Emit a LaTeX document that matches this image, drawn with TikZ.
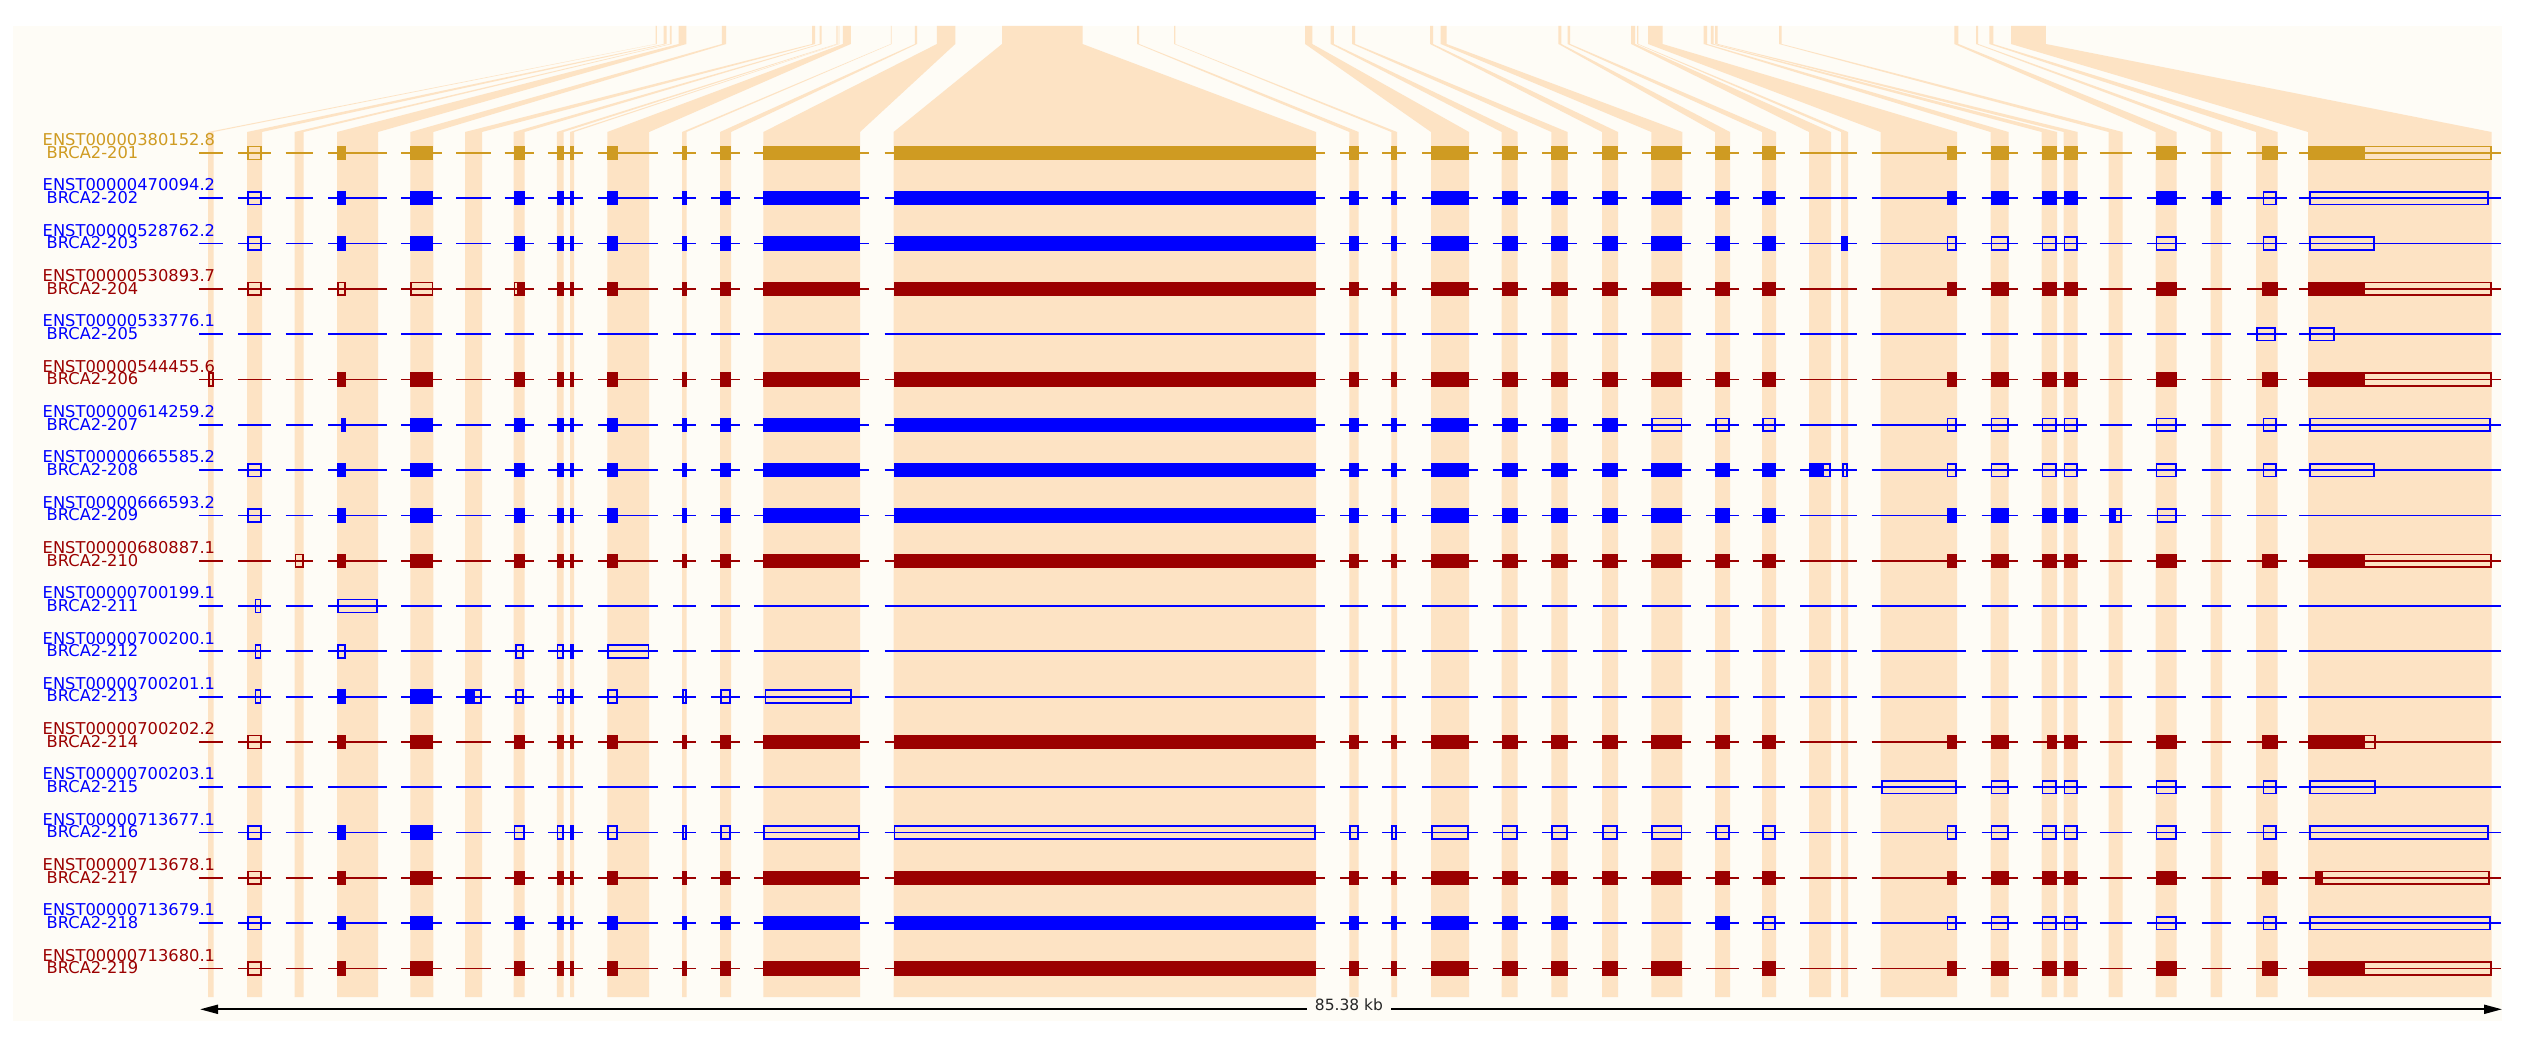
\documentclass[tikz,border=0pt]{standalone}
\usepackage{fontspec}
\setmainfont{DejaVu Sans}
\usetikzlibrary{arrows.meta}

\definecolor{goldtx}{HTML}{CF9B22}
\definecolor{bluetx}{HTML}{0000FF}
\definecolor{redtx}{HTML}{9B0000}
\definecolor{bandcol}{HTML}{FDE3C4}
\definecolor{panelcol}{HTML}{FEFCF6}

% column spans (left/right), one intron segment each
\def\colspans{208/213.5, 247/262, 294.5/303.7, 337/378, 410.4/433.4, 465/482, 513.7/524.6, 556.8/574, 607.3/649.2, 682/686.5, 720/731, 763.4/860, 893.6/1316, 1349.4/1358.6, 1391.3/1397, 1431/1469, 1501.5/1517.6, 1551.4/1567.5, 1602/1618, 1651.3/1682.3, 1715/1730, 1762/1776, 1809/1848, 1880.5/1957, 1990.5/2008.5, 2041.6/2077.7, 2108.5/2122.5, 2155.5/2176.5, 2210.5/2222, 2256/2277.5, 2308/2491.5}
% exons 3-16
\def\exmid{410.4/433.4, 513.7/524.6, 556.8/563.7, 570/574, 607.3/618, 682/686.5, 720/731, 763.4/860, 893.6/1316, 1349.4/1358.6, 1391.3/1397, 1431/1469, 1501.5/1517.6, 1551.4/1567.5}
% exons 21-25
\def\exlate{1946.5/1957, 1990.5/2008.5, 2041.6/2057, 2063.5/2077.7, 2155.5/2176.5}

% #1 row, #2 colour, #3 id, #4 name, #5 coding parts, #6 utr parts
\newcommand{\txrow}[6]{%
  \edef\cdslist{#5}\edef\utrlist{#6}%
  \pgfmathsetmacro{\ry}{153+45.3*#1}
  \node[enst text, text=#2] (enst#1) at (42.5,\ry-7.3) {#3};
  \node[name text, text=#2] (name#1) at (46.5,\ry+5.3) {#4};
  \foreach \xa/\xb in \colspans {\draw[intron line, #2] (\xa-9,\ry) -- (\xb+9,\ry);}
  \foreach \xa/\xb in \cdslist {\fill[#2] (\xa,\ry-7.2) rectangle (\xb,\ry+7.2);}
  \foreach \xa/\xb in \utrlist {\draw[utr box, #2] (\xa+0.8,\ry-6.4) rectangle (\xb-0.8,\ry+6.4);}
}

\begin{document}
\begin{tikzpicture}[x=1pt, y=-1pt,
  enst text/.style={anchor=base west, inner sep=0pt, font=\fontsize{16.3}{16}\selectfont},
  name text/.style={anchor=base west, inner sep=0pt, font=\fontsize{16.3}{16}\selectfont},
  intron line/.style={line width=1.8pt},
  utr box/.style={line width=1.6pt},
  scale text/.style={anchor=base, inner xsep=8pt, inner ysep=0pt, text=black!85, font=\fontsize{15.5}{15}\selectfont},
  scale line/.style={line width=2pt, black, -{Triangle[length=18pt, width=9pt]}}]
\useasboundingbox (0,0) rectangle (2533,1048);
\fill[white] (0,0) rectangle (2533,1048);
\fill[panelcol] (12.6,26) rectangle (2502,1020.7);

% genome to layout bands
\foreach \ta/\tb/\ba/\bb in {655.6/656.8/208/213.5, 663.7/666.6/247/262, 669.8/671.6/294.5/303.7, 678.6/686.4/337/378, 721.8/726.2/410.4/433.4, 812/815.2/465/482, 819.6/821.7/513.7/524.6, 836.3/837.6/556.8/563.7, 838.6/839.4/570/574, 842.8/850.8/607.3/649.2, 890.8/891.7/682/686.5, 914.9/917/720/731, 936.9/955.3/763.4/860, 1002/1082.5/893.6/1316, 1137.2/1139/1349.4/1358.6, 1174.2/1175.3/1391.3/1397, 1305.1/1312.3/1431/1469, 1330.7/1333.8/1501.5/1517.6, 1352.1/1355.2/1551.4/1567.5, 1430/1433/1602/1618, 1440.7/1446.6/1651.3/1682.3, 1558.4/1561.3/1715/1730, 1567.5/1570.2/1762/1776, 1631/1635.2/1809/1831, 1637/1638.3/1841/1848, 1648/1662.6/1880.5/1957, 1703.7/1707.1/1990.5/2008.5, 1710.8/1713.7/2041.6/2057, 1715/1717.7/2063.5/2077.7, 1779/1781.7/2108.5/2122.5, 1954.3/1958.4/2155.5/2176.5, 1976/1978.2/2210.5/2222, 1989.3/1993.3/2256/2277.5, 2011/2045.9/2308/2491.5}
  \fill[bandcol] (\ta,26) -- (\tb,26) -- (\tb,44) -- (\bb,132) -- (\bb,997) -- (\ba,997) -- (\ba,132) -- (\ta,44) -- cycle;

% transcripts
\txrow{0}{goldtx}{ENST00000380152.8}{BRCA2-201}{340.5/346, \exmid, 1602/1618, 1651.3/1682.3, 1715/1730, 1762/1776, \exlate, 2261.5/2277.5, 2308/2363}{247/262, 337/340.5, 2363/2491.5}
\txrow{1}{bluetx}{ENST00000470094.2}{BRCA2-202}{340.5/346, \exmid, 1602/1618, 1651.3/1682.3, 1715/1730, 1762/1776, \exlate, 2210.5/2222}{247/262, 337/340.5, 2262.5/2277, 2309/2489}
\txrow{2}{bluetx}{ENST00000528762.2}{BRCA2-203}{340.5/346, \exmid, 1602/1618, 1651.3/1682.3, 1715/1730, 1762/1776, 1841/1848}{247/262, 337/340.5, \exlate, 2262.5/2277, 2309/2375}
\txrow{3}{redtx}{ENST00000530893.7}{BRCA2-204}{519/524.6, 556.8/563.7, 570/574, 607.3/618, 682/686.5, 720/731, 763.4/860, 893.6/1316, 1349.4/1358.6, 1391.3/1397, 1431/1469, 1501.5/1517.6, 1551.4/1567.5, 1602/1618, 1651.3/1682.3, 1715/1730, 1762/1776, \exlate, 2261.5/2277.5, 2308/2363}{247/262, 337/346, 410.4/433.4, 513.7/519, 2363/2491.5}
\txrow{4}{bluetx}{ENST00000533776.1}{BRCA2-205}{}{2256/2276, 2309/2335}
\txrow{5}{redtx}{ENST00000544455.6}{BRCA2-206}{340.5/346, \exmid, 1602/1618, 1651.3/1682.3, 1715/1730, 1762/1776, \exlate, 2261.5/2277.5, 2308/2363}{208/213.5, 337/340.5, 2363/2491.5}
\txrow{6}{bluetx}{ENST00000614259.2}{BRCA2-207}{340.5/346, \exmid, 1602/1614}{1614/1618, 1651.3/1682.3, 1715/1730, 1762/1776, \exlate, 2262.5/2277, 2309/2491}
\txrow{7}{bluetx}{ENST00000665585.2}{BRCA2-208}{340.5/346, \exmid, 1602/1618, 1651.3/1682.3, 1715/1730, 1762/1776, 1809/1822}{247/262, 337/340.5, 1822/1831, 1842/1847.5, \exlate, 2262.5/2277, 2309/2375}
\txrow{8}{bluetx}{ENST00000666593.2}{BRCA2-209}{340.5/346, \exmid, 1602/1618, 1651.3/1682.3, 1715/1730, 1762/1776, 1946.5/1957, 1990.5/2008.5, 2041.6/2057, 2063.5/2077.7, 2109/2114}{247/262, 337/340.5, 2114/2121.6, 2156.7/2177}
\txrow{9}{redtx}{ENST00000680887.1}{BRCA2-210}{340.5/346, \exmid, 1602/1618, 1651.3/1682.3, 1715/1730, 1762/1776, \exlate, 2261.5/2277.5, 2308/2363}{294.5/303.7, 337/340.5, 2363/2491.5}
\txrow{10}{bluetx}{ENST00000700199.1}{BRCA2-211}{}{254.5/261.3, 337/377.7}
\txrow{11}{bluetx}{ENST00000700200.1}{BRCA2-212}{}{254.5/261.3, 337/346, 515/524, 556.8/563.7, 570/574, 607.3/649.2}
\txrow{12}{bluetx}{ENST00000700201.1}{BRCA2-213}{340.5/346, 410.4/433.4, 465/473.6}{254.5/261.3, 337/340.5, 473.6/482, 515/524, 556.8/563.7, 570/574, 607.3/618, 682/686.5, 720/731, 764.6/852}
\txrow{13}{redtx}{ENST00000700202.2}{BRCA2-214}{340.5/346, \exmid, 1602/1618, 1651.3/1682.3, 1715/1730, 1762/1776, 1946.5/1957, 1990.5/2008.5, 2046.5/2057, 2063.5/2077.7, 2155.5/2176.5, 2261.5/2277.5, 2308/2363.6}{247/262, 337/340.5, 2363.6/2375.5}
\txrow{14}{bluetx}{ENST00000700203.1}{BRCA2-215}{}{1881/1957, 1990.5/2008.5, 2041.6/2057, 2063.5/2077.7, 2155.5/2176.5, 2262.5/2277, 2309/2375.5}
\txrow{15}{bluetx}{ENST00000713677.1}{BRCA2-216}{340.5/346, 410.4/433.4}{247/262, 337/340.5, 513.7/524.6, 556.8/563.7, 570/574, 607.3/618, 682/686.5, 720/731, 763.4/860, 893.6/1316, 1349.4/1358.6, 1391.3/1397, 1431/1469, 1501.5/1517.6, 1551.4/1567.5, 1602/1618, 1651.3/1682.3, 1715/1730, 1762/1776, \exlate, 2262.5/2277, 2309/2489}
\txrow{16}{redtx}{ENST00000713678.1}{BRCA2-217}{340.5/346, \exmid, 1602/1618, 1651.3/1682.3, 1715/1730, 1762/1776, \exlate, 2261.5/2277.5, 2315/2321.6}{247/262, 337/340.5, 2321.6/2489.5}
\txrow{17}{bluetx}{ENST00000713679.1}{BRCA2-218}{340.5/346, \exmid, 1715/1727.6}{247/262, 337/340.5, 1727.6/1730, 1762/1776, \exlate, 2262.5/2277, 2309/2491}
\txrow{18}{redtx}{ENST00000713680.1}{BRCA2-219}{340.5/346, \exmid, 1602/1618, 1651.3/1682.3, 1762/1776, \exlate, 2261.5/2277.5, 2308/2363}{247/262, 337/340.5, 2363/2491.5}

% scale bar
\coordinate (sbleft) at (200,1009.3);
\coordinate (sbright) at (2502,1009.3);
\node[scale text] (sblabel) at (1349,1010.7) {85.38 kb};
\draw[scale line] (sblabel.west |- sbleft) -- (sbleft);
\draw[scale line] (sblabel.east |- sbright) -- (sbright);
\end{tikzpicture}
\end{document}
